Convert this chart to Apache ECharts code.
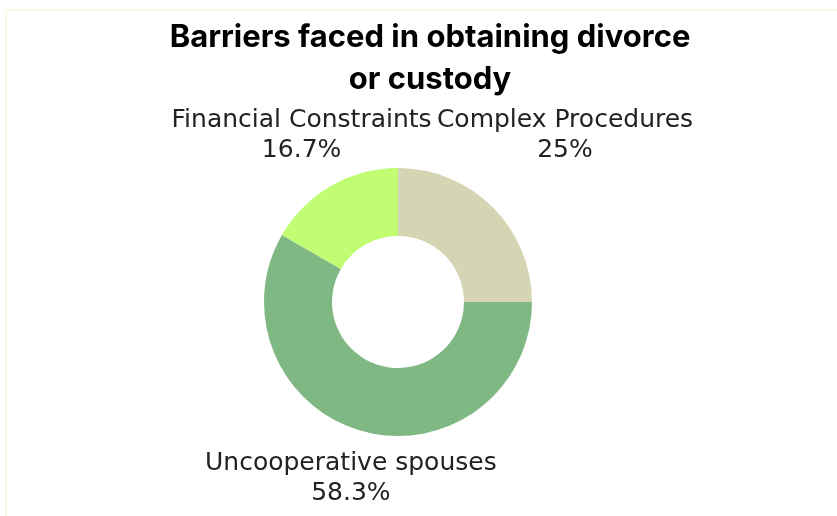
<!DOCTYPE html>
<html>
<head>
<meta charset="utf-8">
<script src="https://cdn.jsdelivr.net/npm/echarts@6/dist/echarts.min.js"></script>
<style>
  html, body { margin: 0; padding: 0; background: #ffffff; }
  #chart { width: 837px; height: 516px; }
</style>
</head>
<body>
<div id="chart"></div>
<script>
// Barrier categories, in clockwise order from twelve o'clock
const categories = ['Complex Procedures', 'Uncooperative spouses', 'Financial Constraints'];
// Number of responses per barrier
const responses = [3, 7, 2];
const sliceColors = ['#d6d5b3', '#80b883', '#c0fd73'];

const CENTER = [398, 302];
const RADII = [66, 134];
// labels sit on rows above / below the ring centre
const LABEL_ROW_ABOVE = 167;
const LABEL_ROW_BELOW = 176;

const total = responses.reduce((a, b) => a + b, 0);
function midAngle(i) {
  let before = 0;
  for (let k = 0; k < i; k++) before += responses[k];
  return ((before + responses[i] / 2) / total) * 2 * Math.PI; // clockwise from top
}

const chart = echarts.init(document.getElementById('chart'), null, { renderer: 'canvas' });
chart.setOption({
  backgroundColor: '#ffffff',
  animation: false,
  title: {
    text: 'Barriers faced in obtaining divorce\nor custody',
    left: 425,
    top: 12,
    textAlign: 'center',
    textStyle: {
      fontFamily: 'Inter',
      fontWeight: 'bold',
      fontSize: 31,
      lineHeight: 42,
      color: '#000000'
    }
  },
  graphic: [{
    type: 'rect',
    silent: true,
    shape: { x: 6, y: 10, width: 900, height: 600 },
    style: { fill: 'none', stroke: '#fcf9dc', lineWidth: 2 }
  }],
  series: [{
    type: 'pie',
    center: CENTER,
    radius: RADII,
    startAngle: 90,
    clockwise: true,
    percentPrecision: 1,
    avoidLabelOverlap: false,
    data: categories.map((name, i) => ({
      name,
      value: responses[i],
      itemStyle: { color: sliceColors[i] }
    })),
    label: {
      show: true,
      position: 'outside',
      formatter: '{b}\n{d}%',
      fontFamily: 'DejaVu Sans',
      fontSize: 25,
      lineHeight: 30,
      color: '#222222',
      align: 'center'
    },
    labelLine: { show: false },
    labelLayout: function (params) {
      const a = midAngle(params.dataIndex);
      const dx = Math.sin(a), dy = -Math.cos(a);
      const t = (dy < 0 ? LABEL_ROW_ABOVE : LABEL_ROW_BELOW) / Math.abs(dy);
      return {
        x: CENTER[0] + dx * t,
        y: CENTER[1] + dy * t,
        align: 'center',
        verticalAlign: 'middle'
      };
    },
    emphasis: { disabled: true }
  }]
});
</script>
</body>
</html>
